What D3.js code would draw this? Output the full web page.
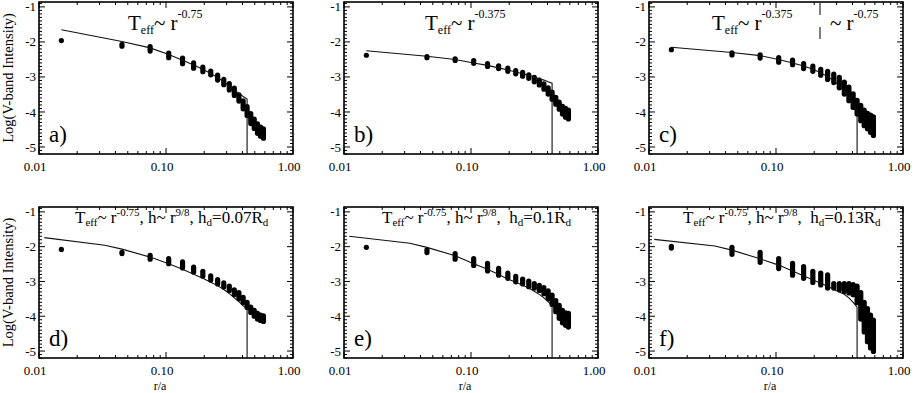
<!DOCTYPE html>
<html>
<head>
<meta charset="utf-8">
<script src="https://cdn.jsdelivr.net/npm/d3@7"></script>
<style>
body { margin: 0; background: #fff; }
text { font-family: "Liberation Serif", "DejaVu Serif", serif; fill: #000; }
</style>
</head>
<body>
<svg width="916" height="393"></svg>
<script>
// radii of the measured rings (r/a)
var radii = [0.015, 0.045, 0.075, 0.105, 0.135, 0.165, 0.195, 0.225, 0.255, 0.285,
             0.315, 0.345, 0.375, 0.405, 0.435, 0.465, 0.495, 0.525, 0.555, 0.585];
// model curve sample radii
var modelRadiiTop = [0.015, 0.045, 0.075, 0.105, 0.135, 0.165, 0.195, 0.225, 0.255, 0.285,
                     0.315, 0.345, 0.375, 0.405, 0.435];
var modelRadiiBottom = [0.011, 0.033, 0.045, 0.075, 0.105, 0.135, 0.165, 0.195, 0.225, 0.255,
                        0.285, 0.315, 0.345, 0.375, 0.405, 0.435];
var diskEdge = 0.435;

var xTickValues = [0.01, 0.1, 1];
var xTickLabels = ["0.01", "0.10", "1.00"];
var yTickValues = [-1, -2, -3, -4, -5];
var yTickLabels = ["-1", "-2", "-3", "-4", "-5"];

// a) Teff ~ r^-0.75
var highA = [-1.96, -2.07, -2.13, -2.32, -2.46, -2.60, -2.72, -2.83, -2.95, -3.07, -3.19, -3.32, -3.51, -3.68, -3.85, -4.05, -4.20, -4.34, -4.43, -4.48];
var lowA  = [-1.96, -2.12, -2.26, -2.45, -2.62, -2.75, -2.85, -2.94, -3.09, -3.22, -3.37, -3.53, -3.69, -3.91, -4.10, -4.33, -4.47, -4.61, -4.69, -4.75];
var modelA = [-1.65, -1.99, -2.17, -2.36, -2.52, -2.66, -2.78, -2.90, -3.02, -3.14, -3.25, -3.37, -3.47, -3.56, -3.63];

// b) Teff ~ r^-0.375
var highB = [-2.38, -2.42, -2.48, -2.53, -2.62, -2.68, -2.75, -2.82, -2.87, -2.94, -3.01, -3.09, -3.20, -3.31, -3.43, -3.58, -3.72, -3.84, -3.90, -3.95];
var lowB  = [-2.38, -2.45, -2.53, -2.61, -2.70, -2.76, -2.84, -2.91, -2.98, -3.04, -3.14, -3.23, -3.35, -3.49, -3.64, -3.78, -3.92, -4.06, -4.15, -4.20];
var modelB = [-2.25, -2.41, -2.50, -2.60, -2.67, -2.74, -2.80, -2.86, -2.91, -2.95, -3.00, -3.05, -3.09, -3.14, -3.18];

// c) broken power law
var highC = [-2.22, -2.31, -2.37, -2.45, -2.52, -2.62, -2.69, -2.78, -2.84, -2.92, -3.01, -3.15, -3.29, -3.48, -3.67, -3.81, -3.95, -4.04, -4.09, -4.14];
var lowC  = [-2.22, -2.37, -2.46, -2.58, -2.65, -2.76, -2.84, -2.95, -3.07, -3.16, -3.31, -3.49, -3.68, -3.87, -4.06, -4.25, -4.39, -4.48, -4.58, -4.67];
var modelC = [-2.15, -2.30, -2.39, -2.50, -2.60, -2.69, -2.78, -2.88, -2.99, -3.11, -3.25, -3.42, -3.61, -3.80, -3.96];

// d) hd = 0.07 Rd
var highD = [-2.08, -2.16, -2.25, -2.34, -2.44, -2.59, -2.71, -2.84, -2.95, -3.04, -3.13, -3.24, -3.32, -3.46, -3.60, -3.74, -3.83, -3.92, -3.97, -3.99];
var lowD  = [-2.08, -2.20, -2.36, -2.49, -2.61, -2.73, -2.85, -2.96, -3.07, -3.16, -3.26, -3.38, -3.50, -3.61, -3.75, -3.89, -4.00, -4.08, -4.12, -4.15];
var modelD = [-1.74, -1.96, -2.07, -2.30, -2.49, -2.65, -2.79, -2.91, -3.02, -3.12, -3.23, -3.35, -3.47, -3.58, -3.70, -3.79];

// e) hd = 0.1 Rd
var highE = [-2.02, -2.09, -2.20, -2.34, -2.48, -2.62, -2.76, -2.85, -2.93, -2.99, -3.06, -3.11, -3.18, -3.27, -3.39, -3.55, -3.69, -3.83, -3.90, -3.92];
var lowE  = [-2.02, -2.17, -2.36, -2.54, -2.70, -2.82, -2.91, -3.01, -3.07, -3.15, -3.19, -3.26, -3.35, -3.50, -3.66, -3.87, -4.06, -4.19, -4.26, -4.31];
var modelE = [-1.70, -1.90, -2.02, -2.26, -2.49, -2.65, -2.80, -2.93, -3.02, -3.11, -3.19, -3.28, -3.37, -3.47, -3.58, -3.70];

// f) hd = 0.13 Rd
var highF = [-1.99, -2.02, -2.16, -2.34, -2.48, -2.57, -2.71, -2.76, -2.81, -3.06, -3.06, -3.06, -3.06, -3.09, -3.13, -3.32, -3.60, -3.78, -3.97, -4.11];
var lowF  = [-2.04, -2.22, -2.45, -2.63, -2.82, -2.91, -3.03, -3.10, -3.19, -3.19, -3.24, -3.29, -3.33, -3.38, -3.61, -4.08, -4.45, -4.73, -4.91, -5.01];
var modelF = [-1.79, -1.98, -2.10, -2.35, -2.53, -2.70, -2.84, -2.95, -3.05, -3.14, -3.23, -3.30, -3.37, -3.47, -3.60, -3.74];

// titles: [text, kind]  kind: "" normal, "sub", "sup"
var titleA = [["T", ""], ["eff", "sub"], ["~ r", ""], ["-0.75", "sup"]];
var titleB = [["T", ""], ["eff", "sub"], ["~ r", ""], ["-0.375", "sup"]];
var titleC = [["T", ""], ["eff", "sub"], ["~ r", ""], ["-0.375", "sup"]];
var titleC2 = [["~ r", ""], ["-0.75", "sup"]];
var titleD = [["T", ""], ["eff", "sub"], ["~ r", ""], ["-0.75", "sup"], [", h~ r", ""], ["9/8", "sup"], [", h", ""], ["d", "sub"], ["=0.07R", ""], ["d", "sub"]];
var titleE = [["T", ""], ["eff", "sub"], ["~ r", ""], ["-0.75", "sup"], [", h~ r", ""], ["9/8", "sup"], [",\u00a0 h", ""], ["d", "sub"], ["=0.1R", ""], ["d", "sub"]];
var titleF = [["T", ""], ["eff", "sub"], ["~ r", ""], ["-0.75", "sup"], [", h~ r", ""], ["9/8", "sup"], [",\u00a0 h", ""], ["d", "sub"], ["=0.13R", ""], ["d", "sub"]];

var svg = d3.select("svg");

var cols = [{l: 39, r: 293}, {l: 344, r: 598}, {l: 649, r: 903}];
var rows = [{t: 2, b: 154}, {t: 207, b: 358}];

var panels = [
    {row: 0, col: 0, hi: highA, lo: lowA, model: modelA, mr: modelRadiiTop, label: "a)", title: titleA, tx: 128, big: 21, small: 12, sup: 12},
    {row: 0, col: 1, hi: highB, lo: lowB, model: modelB, mr: modelRadiiTop, label: "b)", title: titleB, tx: 425, big: 21, small: 12, sup: 12},
    {row: 0, col: 2, hi: highC, lo: lowC, model: modelC, mr: modelRadiiTop, label: "c)", title: titleC, tx: 712, big: 21, small: 12, sup: 12},
    {row: 1, col: 0, hi: highD, lo: lowD, model: modelD, mr: modelRadiiBottom, label: "d)", title: titleD, tx: 75, big: 17, small: 11, sup: 7},
    {row: 1, col: 1, hi: highE, lo: lowE, model: modelE, mr: modelRadiiBottom, label: "e)", title: titleE, tx: 382, big: 17, small: 11, sup: 7},
    {row: 1, col: 2, hi: highF, lo: lowF, model: modelF, mr: modelRadiiBottom, label: "f)", title: titleF, tx: 683, big: 17, small: 11, sup: 7}
];

function drawTitle(x, y, segs, big, small, sup) {
    var t = svg.append("text").attr("x", x).attr("y", y).attr("font-size", big);
    var off = 0;
    segs.forEach(function (s) {
        var target = s[1] == "sub" ? Math.round(big * 0.2) : (s[1] == "sup" ? -sup : 0);
        t.append("tspan")
            .attr("dy", target - off)
            .attr("font-size", s[1] ? small : big)
            .text(s[0]);
        off = target;
    });
    return t;
}

panels.forEach(function (p) {
    var c = cols[p.col], rw = rows[p.row];
    var x = d3.scaleLog().domain([0.01, 1]).range([c.l, c.r]);
    var y = d3.scaleLinear().domain([-5.2, -0.86]).range([rw.b, rw.t]);
    var g = svg.append("g");

    // ticks (inside, all four sides)
    x.ticks().forEach(function (v) {
        var major = Math.abs(Math.log10(v) - Math.round(Math.log10(v))) < 1e-6;
        var len = major ? 6 : 3;
        g.append("line").attr("x1", x(v)).attr("x2", x(v)).attr("y1", rw.b).attr("y2", rw.b - len).attr("stroke", "#000");
        g.append("line").attr("x1", x(v)).attr("x2", x(v)).attr("y1", rw.t).attr("y2", rw.t + len).attr("stroke", "#000");
    });
    y.ticks(40).forEach(function (v) {
        var major = Math.abs(v - Math.round(v)) < 1e-6;
        var len = major ? 6 : 3;
        g.append("line").attr("x1", c.l).attr("x2", c.l + len).attr("y1", y(v)).attr("y2", y(v)).attr("stroke", "#000");
        g.append("line").attr("x1", c.r).attr("x2", c.r - len).attr("y1", y(v)).attr("y2", y(v)).attr("stroke", "#000");
    });

    // frame
    g.append("rect")
        .attr("x", c.l).attr("y", rw.t)
        .attr("width", c.r - c.l).attr("height", rw.b - rw.t)
        .attr("fill", "none").attr("stroke", "#000").attr("stroke-width", 1.6);

    // tick labels
    xTickValues.forEach(function (v, i) {
        g.append("text").attr("x", x(v) - 4).attr("y", rw.b + 17)
            .attr("text-anchor", "middle").attr("font-size", 13).text(xTickLabels[i]);
    });
    yTickValues.forEach(function (v, i) {
        g.append("text").attr("x", c.l - 3).attr("y", y(v)).attr("dy", "0.35em")
            .attr("text-anchor", "end").attr("font-size", 13).text(yTickLabels[i]);
    });

    // observed rings: vertical blobs of dots
    g.selectAll(".ring")
        .data(radii)
        .enter().append("line")
        .attr("class", "ring")
        .attr("x1", function (d) { return x(d); })
        .attr("x2", function (d) { return x(d); })
        .attr("y1", function (d, i) { return y(p.hi[i]); })
        .attr("y2", function (d, i) { return y(p.lo[i]); })
        .attr("stroke", "#000")
        .attr("stroke-width", 5.2)
        .attr("stroke-linecap", "round");

    // model curve, truncated at the disk edge
    var pts = p.mr.map(function (r, i) { return [r, p.model[i]]; });
    pts.push([diskEdge, y.domain()[0]]);
    g.append("path")
        .datum(pts)
        .attr("fill", "none")
        .attr("stroke", "#111")
        .attr("stroke-width", 1.1)
        .attr("d", d3.line().x(function (d) { return x(d[0]); }).y(function (d) { return y(d[1]); }));

    // panel letter
    g.append("text").attr("x", c.l + 10).attr("y", rw.b - 12).attr("font-size", 23).text(p.label);

    // title
    drawTitle(p.tx, p.row == 0 ? 30 : 223, p.title, p.big, p.small, p.sup);

    if (p.col == 0) {
        g.append("text")
            .attr("transform", "translate(13," + ((rw.t + rw.b) / 2) + ") rotate(-90)")
            .attr("text-anchor", "middle").attr("font-size", 14.5)
            .text("Log(V-band Intensity)");
    }
    if (p.row == 1) {
        g.append("text").attr("x", (c.l + c.r) / 2 - 6).attr("y", 390)
            .attr("text-anchor", "middle").attr("font-size", 12).text("r/a");
    }
});

// panel c: second part of the broken law
drawTitle(830, 30, titleC2, 21, 12, 12);
svg.append("line")
    .attr("x1", 820).attr("x2", 820).attr("y1", 3).attr("y2", 39)
    .attr("stroke", "#000").attr("stroke-dasharray", "12,12");
</script>
</body>
</html>
